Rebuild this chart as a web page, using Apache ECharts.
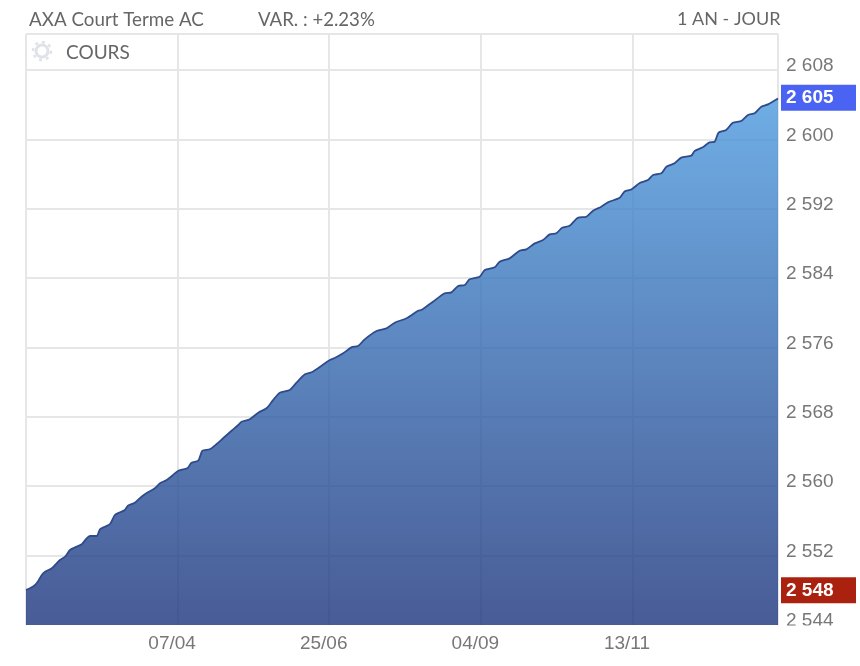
<!DOCTYPE html>
<html><head><meta charset="utf-8">
<style>html,body{margin:0;padding:0;background:#fff}#c{width:860px;height:666px}</style>
<script src="https://cdn.jsdelivr.net/npm/echarts@6/dist/echarts.min.js"></script>
</head><body><div id="c"></div>
<script>
const titleLeft = 'AXA Court Terme AC';
const titleVar = 'VAR. : +2.23%';
const titleRight = '1 AN - JOUR';
const seriesName = 'COURS';
const dayLabels = {50:'07/04',100:'25/06',150:'04/09',200:'13/11'};
const lastDay = 248;
const days = [0,1.3,3,4.1,5.2,6.3,8.5,9.6,11.2,12.9,14.5,16.2,18.4,20,21.1,23.3,24.4,26,27.7,29.3,31,32.6,33.6,35.9,38.1,40.2,42.5,44.2,46.4,48.5,50.1,51.8,53.2,54.6,56.8,58.2,60.6,62.9,65,67.8,70,71.1,73.8,76.6,79.3,81.5,83.7,87,89.2,92,94.2,96.9,100.2,101.8,104.6,107.3,109.5,111.7,115.6,118.9,121.6,125.5,129.3,130.4,134.2,138.1,140.3,142.5,144.7,146.3,149.6,151.3,154.6,156.2,159.5,162.8,165,167.8,170.5,172.7,174.9,176.8,179.3,182,184.8,187,189.7,191.9,195.8,197.4,199.6,202.4,205.1,206.8,209.5,211.2,213.9,216.1,219.4,220.5,223.2,225.4,227.1,228.4,230.9,233.1,235.9,238.1,240.3,242.5,244.7,248];
const prices = [2548.04,2548.23,2548.61,2549.11,2549.77,2550.15,2550.54,2550.92,2551.5,2551.88,2552.65,2552.96,2553.31,2554,2554.26,2554.26,2555.04,2555.33,2555.65,2556.68,2557,2557.26,2557.76,2558.1,2558.79,2559.3,2559.76,2560.34,2560.72,2561.3,2561.76,2561.95,2562.07,2562.71,2562.95,2564.1,2564.26,2564.87,2565.53,2566.4,2567.06,2567.44,2567.72,2568.48,2568.99,2569.94,2570.79,2571.1,2571.94,2572.91,2573.14,2573.75,2574.56,2574.79,2575.33,2576.02,2576.17,2576.94,2577.9,2578.21,2578.86,2579.37,2580.24,2580.32,2581.28,2582.25,2582.36,2583.09,2583.21,2583.86,2584.16,2584.93,2585.25,2585.89,2586.28,2587.16,2587.32,2588.01,2588.39,2589.05,2589.17,2589.81,2590.04,2590.97,2591.08,2591.77,2592.23,2592.74,2593.27,2594,2594.22,2594.97,2595.31,2595.89,2596.08,2596.85,2597.24,2597.89,2598.12,2598.66,2599.08,2599.66,2599.73,2600.77,2601.08,2601.92,2602.12,2602.81,2603,2603.77,2604.04,2604.71];
const yMin = 2544, yMax = 2612.15, yStep = 8;
const highValue = 2604.8, lowValue = 2548;

const fmt = v => { const s = String(Math.round(v)); return s.slice(0,1) + ' ' + s.slice(1); };
const tag = (v, bg) => ({
  yAxis: v,
  lineStyle: {color:'rgba(0,0,0,0)', width:0},
  label: {show:true, position:'end', distance:3, formatter: fmt(v), color:'#fff', backgroundColor:bg,
          fontFamily:'Liberation Sans', fontWeight:'bold', fontSize:19, width:70, height:26, lineHeight:27,
          padding:[0,0,0,5], align:'left', verticalAlign:'middle'}
});
const gridC = '#e6e6e6';
const chart = echarts.init(document.getElementById('c'), null, {renderer:'canvas'});
const headStyle = {fontFamily:'Lato', fontSize:18.8, fill:'#666'};
chart.setOption({
  animation:false,
  backgroundColor:'#fff',
  grid:{left:26,right:82,top:34,bottom:41},
  xAxis:{type:'value',min:0,max:lastDay,interval:50,
    axisLine:{show:false},axisTick:{show:false},
    splitLine:{show:true,showMinLine:true,showMaxLine:true,lineStyle:{color:gridC,width:2}},
    axisLabel:{color:'#777',fontFamily:'Liberation Sans',fontSize:19,margin:9,padding:[0,11,0,0],
      showMinLabel:false,showMaxLabel:false,hideOverlap:false,
      formatter:v=>dayLabels[v]||''}},
  yAxis:{type:'value',position:'right',min:yMin,max:yMax,interval:yStep,
    axisLine:{show:false},axisTick:{show:false},
    splitLine:{show:true,showMaxLine:true,showMinLine:false,lineStyle:{color:gridC,width:2}},
    axisLabel:{color:'#777',fontFamily:'Liberation Sans',fontSize:19,margin:8,verticalAlign:'bottom',lineHeight:8,
      showMinLabel:true,showMaxLabel:false,hideOverlap:false,
      formatter:v=>(v-yMin)%yStep===0?fmt(v):''}},
  series:[{
    type:'line',name:seriesName,
    data:days.map((d,i)=>[d,prices[i]]),
    showSymbol:false,smooth:0.25,
    lineStyle:{color:'#2f4b8c',width:1.8},
    areaStyle:{opacity:1,color:new echarts.graphic.LinearGradient(0,0,0,1,[
      {offset:0,color:'rgba(75,153,222,0.8)'},
      {offset:1,color:'rgba(27,51,124,0.8)'}])},
    markLine:{silent:true,symbol:'none',animation:false,z:10,
      data:[tag(highValue,'#4a63f2'),tag(lowValue,'#ab2110')]}
  }],
  graphic:[
    {type:'rect',z:100,shape:{x:779,y:625.5,width:81,height:14},style:{fill:'#fff'}},
    {type:'text',z:101,x:29,y:10.5,style:{...headStyle,text:titleLeft}},
    {type:'text',z:101,x:258,y:10.5,style:{...headStyle,text:titleVar,fontSize:18.6}},
    {type:'text',z:101,x:677,y:10.5,style:{...headStyle,text:titleRight,fontSize:18}},
    {type:'text',z:101,x:66,y:43.5,style:{...headStyle,text:seriesName,fontSize:19}},
    {type:'circle',z:101,shape:{cx:42,cy:51,r:6},style:{fill:'none',stroke:'#dfe2e9',lineWidth:3}},
    {type:'circle',z:101,shape:{cx:42,cy:51,r:9},style:{fill:'none',stroke:'#dfe2e9',lineWidth:2.5,lineDash:[3,4]}}
  ]
});
</script></body></html>
